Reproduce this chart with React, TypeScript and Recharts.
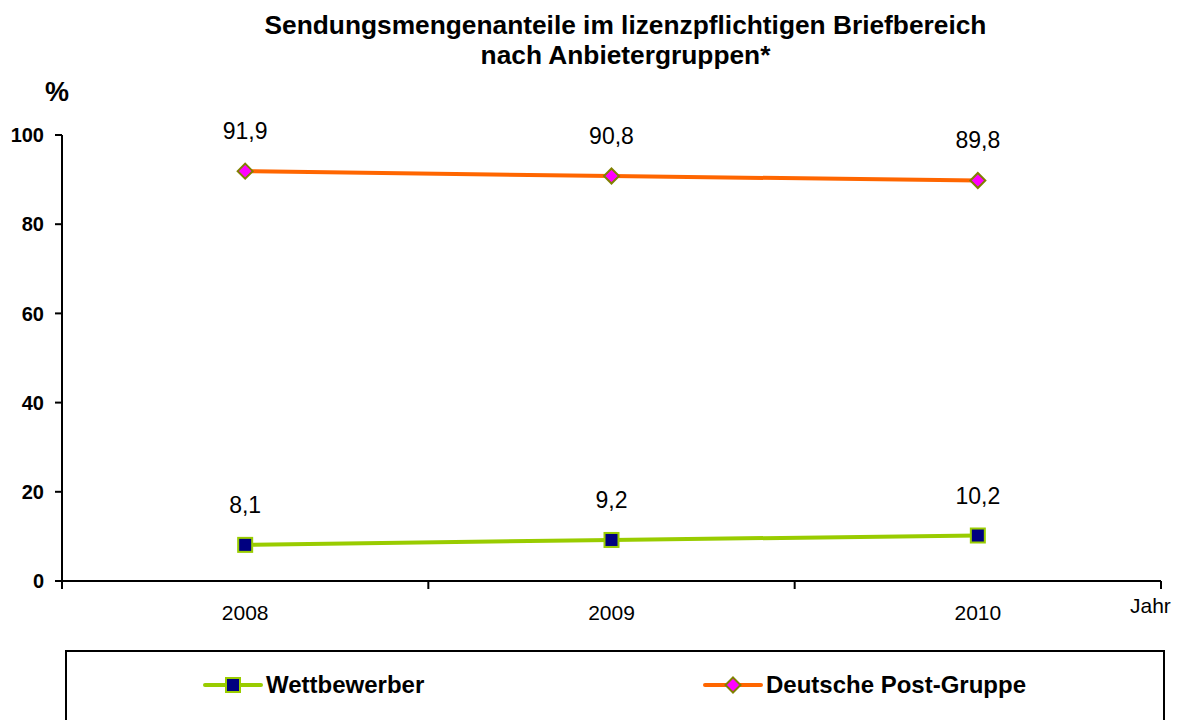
import React from "react";
import { LineChart, Line, XAxis, YAxis, LabelList } from "recharts";

const years = ["2008", "2009", "2010"];
const wettbewerber = [8.1, 9.2, 10.2];
const deutschePost = [91.9, 90.8, 89.8];
const yTicks = [0, 20, 40, 60, 80, 100];

const GREEN = "#99CC00";
const NAVY = "#000080";
const ORANGE = "#FF6600";
const MAGENTA = "#FF00FF";
const OLIVE = "#808000";
const FONT = "Arial, 'Liberation Sans', sans-serif";

const X_TICK_SIZE = 8;
const X_TICK_MARGIN = 16;

const data = years.map((y, i) => ({
  year: y,
  wett: wettbewerber[i],
  post: deutschePost[i],
}));

const fmt = (v: number) => v.toFixed(1).replace(".", ",");

const SquareDot = (p: any) => {
  const { cx, cy } = p;
  if (cx == null || cy == null) return null;
  return <rect x={cx - 7} y={cy - 7} width={14} height={14} fill={NAVY} stroke={GREEN} strokeWidth={2} />;
};

const DiamondDot = (p: any) => {
  const { cx, cy } = p;
  if (cx == null || cy == null) return null;
  const r = 7.5;
  return (
    <polygon
      points={`${cx},${cy - r} ${cx + r},${cy} ${cx},${cy + r} ${cx - r},${cy}`}
      fill={MAGENTA}
      stroke={OLIVE}
      strokeWidth={2}
    />
  );
};

// year label in the band centre, tick marks on the band boundaries
const YearTick = (p: any) => {
  const { x, y, payload, index, visibleTicksCount, width } = p;
  const half = payload?.offset ? payload.offset : width / visibleTicksCount / 2;
  const axisY = y - X_TICK_SIZE - X_TICK_MARGIN;
  return (
    <g>
      <line x1={x - half} y1={axisY} x2={x - half} y2={axisY + X_TICK_SIZE} stroke="#000" strokeWidth={2} />
      {index === visibleTicksCount - 1 && (
        <line x1={x + half} y1={axisY} x2={x + half} y2={axisY + X_TICK_SIZE} stroke="#000" strokeWidth={2} />
      )}
      <text x={x} y={y} dy="0.71em" textAnchor="middle" fill="#000" fontSize={21} fontFamily={FONT}>
        {payload.value}
      </text>
    </g>
  );
};

const LegendItem = ({ color, kind, label }: { color: string; kind: "sq" | "dm"; label: string }) => (
  <div style={{ display: "flex", alignItems: "center" }}>
    <svg width={60} height={20}>
      <line x1={2} y1={10} x2={58} y2={10} stroke={color} strokeWidth={4} strokeLinecap="round" />
      {kind === "sq" ? <SquareDot cx={30} cy={10} /> : <DiamondDot cx={30} cy={10} />}
    </svg>
    <span style={{ fontWeight: "bold", fontSize: 24, marginLeft: 3 }}>{label}</span>
  </div>
);

export default function App() {
  return (
    <div style={{ position: "absolute", left: 0, top: 0, width: 1183, height: 720, background: "#fff", fontFamily: FONT, overflow: "hidden" }}>
      <div style={{ position: "absolute", left: 0, width: 1251, top: 10, textAlign: "center", fontWeight: "bold", fontSize: 26.3, lineHeight: "30px" }}>
        Sendungsmengenanteile im lizenzpflichtigen Briefbereich
        <br />
        nach Anbietergruppen*
      </div>
      <div style={{ position: "absolute", left: 45, top: 77, fontWeight: "bold", fontSize: 27 }}>%</div>
      <div style={{ position: "absolute", left: 1130, top: 594, fontSize: 21 }}>Jahr</div>
      <LineChart width={1183} height={640} data={data} margin={{ top: 135, right: 22, bottom: 29, left: 12 }}>
        <XAxis
          dataKey="year"
          scale="band"
          tickLine={false}
          axisLine={{ stroke: "#000", strokeWidth: 2 }}
          height={30}
          tickSize={X_TICK_SIZE}
          tickMargin={X_TICK_MARGIN}
          tick={<YearTick />}
        />
        <YAxis
          domain={[0, 100]}
          ticks={yTicks}
          width={50}
          tickSize={7}
          tickMargin={11}
          axisLine={{ stroke: "#000", strokeWidth: 2 }}
          tickLine={{ stroke: "#000", strokeWidth: 2 }}
          tick={{ fill: "#000", fontSize: 20, fontWeight: "bold", fontFamily: FONT }}
        />
        <Line dataKey="wett" stroke={GREEN} strokeWidth={4} dot={<SquareDot />} isAnimationActive={false}>
          <LabelList dataKey="wett" position="top" offset={32} formatter={(v: any) => fmt(Number(v))} style={{ fill: "#000", fontSize: 23, fontFamily: FONT }} />
        </Line>
        <Line dataKey="post" stroke={ORANGE} strokeWidth={4} dot={<DiamondDot />} isAnimationActive={false}>
          <LabelList dataKey="post" position="top" offset={32} formatter={(v: any) => fmt(Number(v))} style={{ fill: "#000", fontSize: 23, fontFamily: FONT }} />
        </Line>
      </LineChart>
      <div style={{ position: "absolute", left: 65, top: 650, width: 1100, height: 90, border: "2px solid #000", boxSizing: "border-box" }}>
        <div style={{ position: "absolute", left: 136, top: 19 }}>
          <LegendItem color={GREEN} kind="sq" label="Wettbewerber" />
        </div>
        <div style={{ position: "absolute", left: 636, top: 19 }}>
          <LegendItem color={ORANGE} kind="dm" label="Deutsche Post-Gruppe" />
        </div>
      </div>
    </div>
  );
}
